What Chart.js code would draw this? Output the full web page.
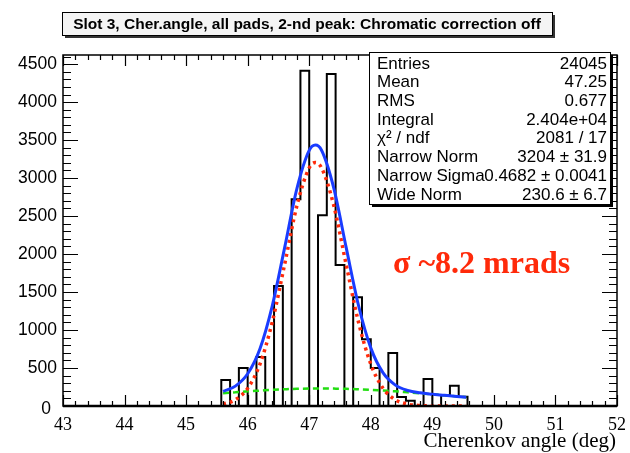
<!DOCTYPE html>
<html>
<head>
<meta charset="utf-8">
<script src="https://cdn.jsdelivr.net/npm/chart.js@4/dist/chart.umd.min.js"></script>
<style>
  html, body { margin: 0; padding: 0; background: #fff; }
  canvas { display: block; }
</style>
</head>
<body>
<canvas id="chart" width="630" height="453"></canvas>
<script>
/* ========= 1.  DATA  ================================================= */
const xTickVals   = [43, 44, 45, 46, 47, 48, 49, 50, 51, 52];
const xTickLabels = ['43','44','45','46','47','48','49','50','51','52'];
const yTickVals   = [0, 500, 1000, 1500, 2000, 2500, 3000, 3500, 4000, 4500];
const yTickLabels = ['0','500','1000','1500','2000','2500','3000','3500','4000','4500'];

// histogram: 63 bins over 43..52 (width 1/7 deg), first filled bin starts at 45.571
const binStart = 43 + 18 / 7;
const binWidth = 1 / 7;
const counts = [342, 0, 500, 0, 645, 0, 1580, 0, 2720, 4412, 0, 2510, 4370, 1855,
                0, 1430, 880, 500, 0, 697, 120, 70, 0, 355, 0, 140, 267, 122];

// fit curves
const fitX      = [45.6, 45.8, 46.0, 46.2, 46.4, 46.6, 46.8, 47.0, 47.1, 47.2, 47.4, 47.6,
                   47.8, 48.0, 48.2, 48.4, 48.6, 48.8, 49.0, 49.2, 49.4, 49.55];
const fitTotal  = [191, 262, 425, 755, 1319, 2082, 2862, 3364, 3434, 3366, 2865, 2088,
                   1326, 765, 435, 275, 204, 173, 155, 140, 126, 116];
const fitNarrow = [24, 82, 232, 552, 1106, 1862, 2636, 3135, 3204, 3135, 2636, 1862,
                   1106, 552, 232, 82, 24, 6, 1, 0, 0, 0];
const fitWide   = [167, 180, 193, 203, 213, 220, 226, 229, 230, 231, 229, 226,
                   220, 213, 203, 193, 180, 167, 154, 140, 126, 116];

const statLabels = ['Entries','Mean','RMS','Integral','\u03C7\u00B2 / ndf',
                    'Narrow Norm','Narrow Sigma','Wide Norm'];
const statValues = ['24045','47.25','0.677','2.404e+04','2081 / 17',
                    '3204 \u00B1 31.9','0.4682 \u00B1 0.0041','230.6 \u00B1 6.7'];

const titleText = 'Slot 3, Cher.angle, all pads, 2-nd peak: Chromatic correction off';
const xTitle    = 'Cherenkov angle (deg)';
const noteText  = '\u03C3 ~8.2 mrads';

/* ========= 2.  HELPERS  ============================================== */
function histOutline () {
  const pts = [{ x: binStart, y: 0 }];
  counts.forEach((c, i) => {
    const lo = binStart + i * binWidth;
    pts.push({ x: lo, y: c }, { x: lo + binWidth, y: c });
  });
  pts.push({ x: binStart + counts.length * binWidth, y: 0 });
  return pts;
}
const toXY = ys => fitX.map((x, i) => ({ x, y: ys[i] }));

/* ========= 3.  ROOT-STYLE FRAME, TICKS, BOXES  ======================= */
const rootFrame = {
  id: 'rootFrame',
  afterDraw (chart) {
    const { ctx, chartArea: a, scales: { x, y } } = chart;
    ctx.save();

    // frame
    ctx.strokeStyle = '#000';
    ctx.lineWidth = 1.5;
    ctx.strokeRect(a.left, a.top, a.right - a.left, a.bottom - a.top);
    ctx.lineWidth = 2.5;
    ctx.beginPath();
    ctx.moveTo(a.left, a.bottom); ctx.lineTo(a.right, a.bottom);
    ctx.stroke();

    // x ticks (bottom + top, pointing inward)
    ctx.lineWidth = 1.2;
    ctx.beginPath();
    for (let v = 43; v <= 52.001; v += 0.2) {
      const px = Math.round(x.getPixelForValue(v)) + 0.5;
      const major = Math.abs(v - Math.round(v)) < 1e-6;
      const len = major ? 11 : 5;
      ctx.moveTo(px, a.bottom); ctx.lineTo(px, a.bottom - len);
      ctx.moveTo(px, a.top);    ctx.lineTo(px, a.top + len);
    }
    // y ticks (left + right)
    for (let v = 0; v <= 4600; v += 100) {
      const py = Math.round(y.getPixelForValue(v)) + 0.5;
      const len = v % 500 === 0 ? 15 : 8;
      ctx.moveTo(a.left, py);  ctx.lineTo(a.left + len, py);
      ctx.moveTo(a.right, py); ctx.lineTo(a.right - len, py);
    }
    ctx.stroke();

    // tick labels
    ctx.fillStyle = '#000';
    ctx.font = '18px "Liberation Serif"';
    ctx.textAlign = 'center';
    ctx.textBaseline = 'top';
    xTickVals.forEach((v, i) => ctx.fillText(xTickLabels[i], x.getPixelForValue(v), a.bottom + 10));

    ctx.font = '17.5px "Liberation Sans"';
    ctx.textAlign = 'right';
    ctx.textBaseline = 'middle';
    yTickVals.forEach((v, i) => {
      if (v === 0) ctx.fillText(yTickLabels[i], a.left - 12, y.getPixelForValue(v) + 3);
      else ctx.fillText(yTickLabels[i], a.left - 6, y.getPixelForValue(v));
    });

    // x axis title
    ctx.font = '21px "Liberation Serif"';
    ctx.textAlign = 'right';
    ctx.textBaseline = 'middle';
    ctx.fillText(xTitle, a.right - 1, 441);

    // stats box
    const sx = 369, sy = 52, sw = 241, sh = 152;
    ctx.fillStyle = '#000';
    ctx.fillRect(sx + 3, sy + 3, sw, sh);
    ctx.fillStyle = '#fff';
    ctx.fillRect(sx, sy, sw, sh);
    ctx.lineWidth = 1;
    ctx.strokeStyle = '#000';
    ctx.strokeRect(sx + 0.5, sy + 0.5, sw, sh);
    ctx.fillStyle = '#000';
    ctx.font = '17px "Liberation Sans"';
    ctx.textBaseline = 'middle';
    statLabels.forEach((lab, i) => {
      const py = sy + 12 + i * 18.7;
      ctx.textAlign = 'left';
      ctx.fillText(lab, sx + 8, py);
      ctx.textAlign = 'right';
      ctx.fillText(statValues[i], sx + sw - 3, py);
    });

    // red annotation
    ctx.fillStyle = '#ff2a0a';
    ctx.font = 'bold 32px "Liberation Serif"';
    ctx.textAlign = 'left';
    ctx.textBaseline = 'middle';
    ctx.fillText(noteText, 393, 265);

    // title box
    const tx = 62, ty = 12, tw = 490, th = 23;
    ctx.fillStyle = '#333';
    ctx.fillRect(tx + 3, ty + 3, tw, th);
    ctx.fillStyle = '#f4f4f4';
    ctx.fillRect(tx, ty, tw, th);
    ctx.strokeStyle = '#000';
    ctx.lineWidth = 1;
    ctx.strokeRect(tx + 0.5, ty + 0.5, tw, th);
    ctx.fillStyle = '#000';
    ctx.font = 'bold 15.5px "Liberation Sans"';
    ctx.textAlign = 'center';
    ctx.textBaseline = 'middle';
    ctx.fillText(titleText, tx + tw / 2, ty + th / 2 + 1);

    ctx.restore();
  }
};

/* ========= 4.  CHART  ================================================ */
new Chart(document.getElementById('chart'), {
  type: 'line',
  data: {
    datasets: [
      { label: 'hist', data: histOutline(), borderColor: '#000', borderWidth: 2,
        pointRadius: 0, tension: 0, fill: false, order: 4 },
      { label: 'wide', data: toXY(fitWide), borderColor: '#22dd11', borderWidth: 2.5,
        borderDash: [6, 4], pointRadius: 0, cubicInterpolationMode: 'monotone', fill: false, order: 3 },
      { label: 'narrow', data: toXY(fitNarrow), borderColor: '#ff2a0a', borderWidth: 3.5,
        borderDash: [3, 4], pointRadius: 0, cubicInterpolationMode: 'monotone', fill: false, order: 2 },
      { label: 'total', data: toXY(fitTotal), borderColor: '#1a3cff', borderWidth: 3,
        pointRadius: 0, cubicInterpolationMode: 'monotone', fill: false, order: 1 }
    ]
  },
  options: {
    responsive: false,
    animation: false,
    events: [],
    layout: { padding: { left: 63, top: 55, right: 13, bottom: 47 } },
    scales: {
      x: { type: 'linear', min: 43, max: 52, display: false },
      y: { type: 'linear', min: 0, max: 4620, display: false }
    },
    plugins: { legend: { display: false }, tooltip: { enabled: false } }
  },
  plugins: [rootFrame]
});
</script>
</body>
</html>
